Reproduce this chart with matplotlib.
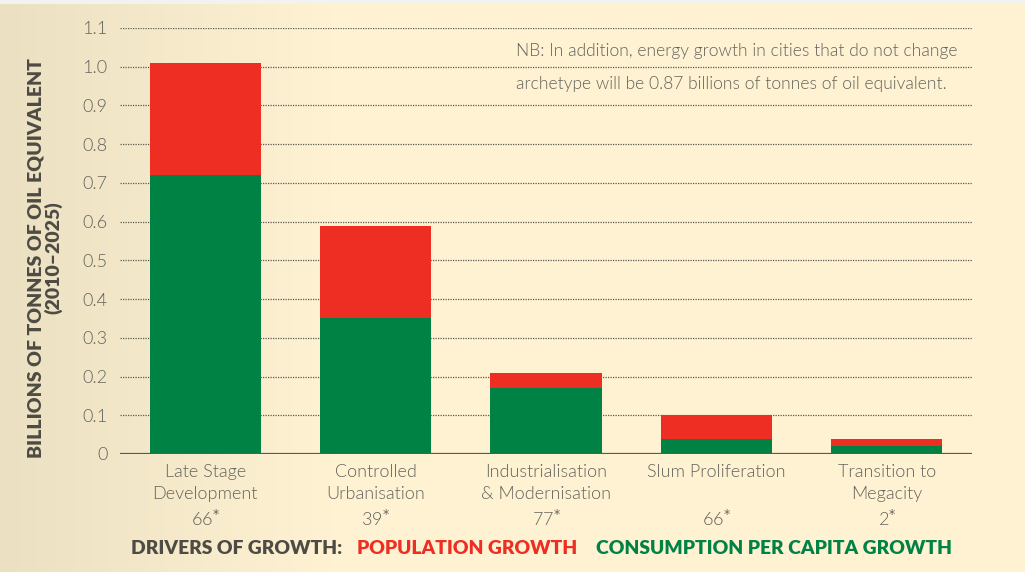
import matplotlib
matplotlib.use("Agg")
import matplotlib.pyplot as plt
import numpy as np
from matplotlib.colors import to_rgb

categories = ["Late Stage\nDevelopment\n66$^{*}$", "Controlled\nUrbanisation\n39$^{*}$",
              "Industrialisation\n& Modernisation\n77$^{*}$", "Slum Proliferation\n\n66$^{*}$",
              "Transition to\nMegacity\n2$^{*}$"]
consumption = [0.72, 0.35, 0.17, 0.04, 0.02]
population = [0.29, 0.24, 0.04, 0.06, 0.02]
yticks = [0, 0.1, 0.2, 0.3, 0.4, 0.5, 0.6, 0.7, 0.8, 0.9, 1.0, 1.1]
yticklabels = ["0", "0.1", "0.2", "0.3", "0.4", "0.5", "0.6", "0.7", "0.8", "0.9", "1.0", "1.1"]

GREEN = "#008244"
RED = "#EE2E22"
GRAY = "#64635b"
DARK = "#4d4b43"
BG = "#FEF2D3"
LW = 300

plt.rcParams['font.family'] = ['Lato', 'DejaVu Sans']

fig = plt.figure(figsize=(10.25, 5.72), dpi=100)
fig.patch.set_facecolor(BG)

# background gradient
bg = fig.add_axes([0, 0, 1, 1], zorder=-10)
W, H = 1025, 572
c1 = np.array(to_rgb("#ECE0C2"))
c2 = np.array(to_rgb(BG))
t = np.clip(np.linspace(0, 1, W) / (330 / W), 0, 1)[None, :, None]
img = c1 * (1 - t) + c2 * t
img = np.repeat(img, H, axis=0)
img[:4, :, :] = to_rgb("#F2F2F0")
bg.imshow(img, aspect='auto', extent=[0, 1, 0, 1])
bg.set_axis_off()

ax = fig.add_axes([120 / W, 1 - 454 / H, (972 - 120) / W, (454 - 28) / H])
ax.set_facecolor('none')
x = np.arange(len(categories))
ax.bar(x, consumption, width=0.652, color=GREEN, zorder=3)
ax.bar(x, population, bottom=consumption, width=0.652, color=RED, zorder=3)
ax.set_xlim(-0.5, 4.5)
ax.set_ylim(0, 1.1)
ax.set_yticks(yticks)
ax.set_yticklabels(yticklabels, fontsize=13, color=GRAY, fontweight=LW)
for v in yticks[1:]:
    ax.axhline(v, color="#5a5a52", lw=0.9, ls=(0, (1, 1)), zorder=1)
ax.axhline(0, color="#5a5a52", lw=1.6, zorder=4)
ax.set_xticks(x)
ax.set_xticklabels(categories, fontsize=13, color=GRAY, fontweight=LW, linespacing=1.45)
ax.tick_params(axis='both', length=0)
ax.tick_params(axis='y', pad=9)
ax.tick_params(axis='x', pad=7)
for s in ax.spines.values():
    s.set_visible(False)

fig.text(45 / W, 1 - 258 / H, "BILLIONS OF TONNES OF OIL EQUIVALENT\n(2010–2025)",
         rotation=90, ha='center', va='center', multialignment='center',
         fontsize=14, fontweight='heavy', color=DARK, linespacing=0.95)

fig.text(516 / W, 1 - 51 / H, "NB: In addition, energy growth in cities that do not change",
         ha='left', va='center', fontsize=12.6, color=GRAY, fontweight=LW)
fig.text(516 / W, 1 - 84 / H, "archetype will be 0.87 billions of tonnes of oil equivalent.",
         ha='left', va='center', fontsize=12.6, color=GRAY, fontweight=LW)

yl = 1 - 549 / H
fig.text(131 / W, yl, "DRIVERS OF GROWTH:", ha='left', va='center', fontsize=13.9,
         fontweight='heavy', color=DARK)
fig.text(357 / W, yl, "POPULATION GROWTH", ha='left', va='center', fontsize=13.9,
         fontweight='heavy', color=RED)
fig.text(596 / W, yl, "CONSUMPTION PER CAPITA GROWTH", ha='left', va='center', fontsize=13.9,
         fontweight='heavy', color=GREEN)

fig.savefig("out.png", dpi=100, facecolor=fig.get_facecolor())
